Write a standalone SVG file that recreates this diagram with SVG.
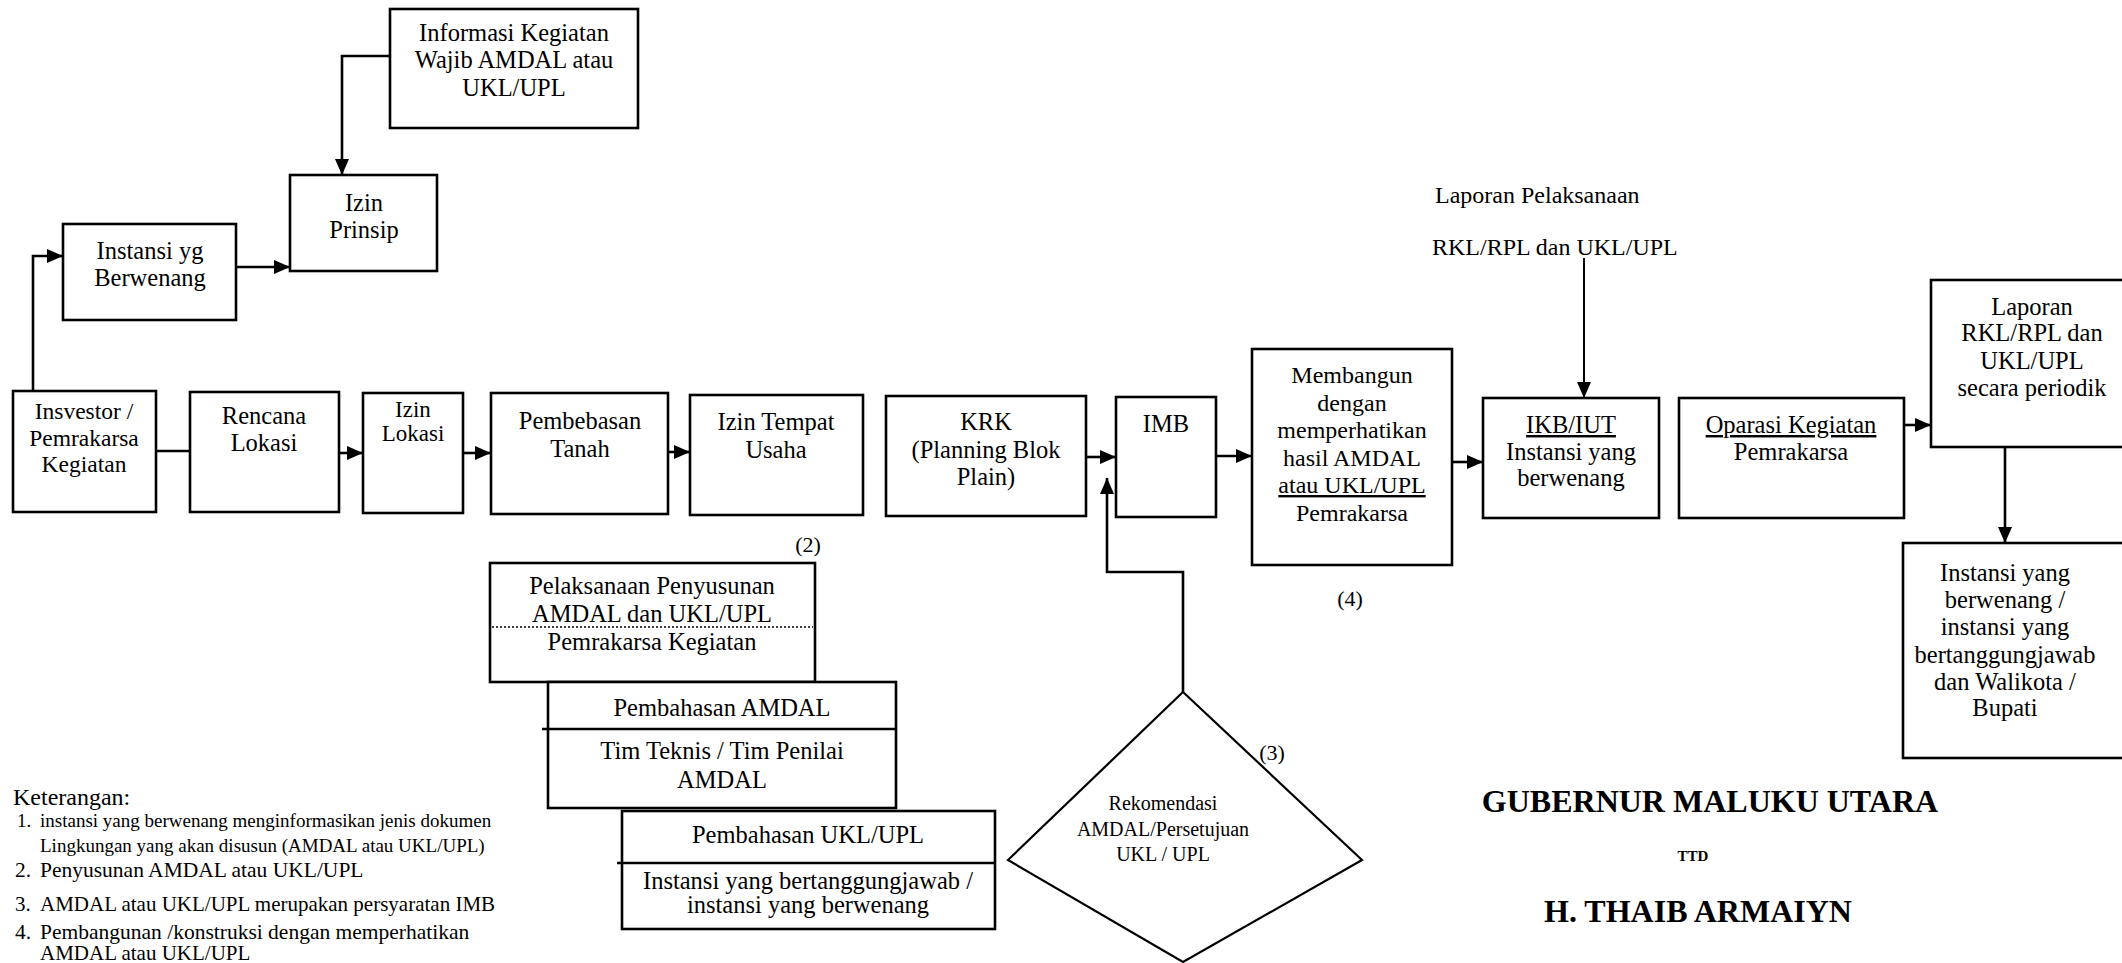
<svg xmlns="http://www.w3.org/2000/svg" width="2122" height="963" viewBox="0 0 2122 963">
<style>
.box{fill:#fff;stroke:#000;stroke-width:2.6}
.t{font-family:"Liberation Serif","Times New Roman",serif;font-size:24.5px;fill:#000;text-anchor:middle}
.l{font-family:"Liberation Serif","Times New Roman",serif;fill:#000;text-anchor:start}
.c{fill:none;stroke:#000;stroke-width:2.6}
.u{text-decoration:underline}
.b{font-weight:bold}
</style>
<defs>
<marker id="ah" viewBox="0 0 16 14" refX="16" refY="7" markerWidth="16" markerHeight="14" markerUnits="userSpaceOnUse" orient="auto">
<path d="M0,0 L16,7 L0,14 z" fill="#000"/>
</marker>
</defs>
<rect width="2122" height="963" fill="#fff"/>

<g id="connectors">
<path class="c" d="M390,56 H342 V175" marker-end="url(#ah)"/>
<path class="c" d="M236,267 H290" marker-end="url(#ah)"/>
<path class="c" d="M33,391 V256 H63" marker-end="url(#ah)"/>
<path class="c" d="M156,451 H190"/>
<path class="c" d="M339,453 H363" marker-end="url(#ah)"/>
<path class="c" d="M463,453 H491" marker-end="url(#ah)"/>
<path class="c" d="M668,452 H690" marker-end="url(#ah)"/>
<path class="c" d="M1086,457 H1116" marker-end="url(#ah)"/>
<path class="c" d="M1216,456 H1252" marker-end="url(#ah)"/>
<path class="c" d="M1452,462 H1483" marker-end="url(#ah)"/>
<path class="c" d="M1904,425 H1931" marker-end="url(#ah)"/>
<path class="c" d="M2005,447 V543" marker-end="url(#ah)"/>
<path class="c" d="M1584,258 V398" marker-end="url(#ah)" style="stroke-width:2"/>
<path class="c" d="M1183,692 V572 H1107 V478" marker-end="url(#ah)"/>
</g>

<g id="informasi">
<rect class="box" x="390" y="9" width="248" height="119"/>
<text class="t" x="514" y="41">Informasi Kegiatan</text>
<text class="t" x="514" y="68">Wajib AMDAL atau</text>
<text class="t" x="514" y="96">UKL/UPL</text>
</g>
<g id="izin-prinsip">
<rect class="box" x="290" y="175" width="147" height="96"/>
<text class="t" x="364" y="211">Izin</text>
<text class="t" x="364" y="238">Prinsip</text>
</g>
<g id="instansi-yg">
<rect class="box" x="63" y="224" width="173" height="96"/>
<text class="t" x="150" y="259">Instansi yg</text>
<text class="t" x="150" y="286">Berwenang</text>
</g>

<g id="investor">
<rect class="box" x="13" y="391" width="143" height="121"/>
<text class="t" x="84" y="419" style="font-size:23.5px">Insvestor /</text>
<text class="t" x="84" y="446" style="font-size:23.5px">Pemrakarsa</text>
<text class="t" x="84" y="472" style="font-size:23.5px">Kegiatan</text>
</g>
<g id="rencana">
<rect class="box" x="190" y="392" width="149" height="120"/>
<text class="t" x="264" y="424">Rencana</text>
<text class="t" x="264" y="451">Lokasi</text>
</g>
<g id="izin-lokasi">
<rect class="box" x="363" y="393" width="100" height="120"/>
<text class="t" x="413" y="417" style="font-size:23px">Izin</text>
<text class="t" x="413" y="441" style="font-size:23px">Lokasi</text>
</g>
<g id="pembebasan">
<rect class="box" x="491" y="393" width="177" height="121"/>
<text class="t" x="580" y="429">Pembebasan</text>
<text class="t" x="580" y="457">Tanah</text>
</g>
<g id="izin-tempat">
<rect class="box" x="690" y="395" width="173" height="120"/>
<text class="t" x="776" y="430">Izin Tempat</text>
<text class="t" x="776" y="458">Usaha</text>
</g>
<g id="krk">
<rect class="box" x="886" y="396" width="200" height="120"/>
<text class="t" x="986" y="430">KRK</text>
<text class="t" x="986" y="458">(Planning Blok</text>
<text class="t" x="986" y="485">Plain)</text>
</g>
<g id="imb">
<rect class="box" x="1116" y="397" width="100" height="120"/>
<text class="t" x="1166" y="432">IMB</text>
</g>
<g id="membangun">
<rect class="box" x="1252" y="349" width="200" height="216"/>
<text class="t" x="1352" y="383" style="font-size:24px">Membangun</text>
<text class="t" x="1352" y="411" style="font-size:24px">dengan</text>
<text class="t" x="1352" y="438" style="font-size:24px">memperhatikan</text>
<text class="t" x="1352" y="466" style="font-size:24px">hasil AMDAL</text>
<text class="t u" x="1352" y="493" style="font-size:24px">atau UKL/UPL</text>
<text class="t" x="1352" y="521" style="font-size:24px">Pemrakarsa</text>
</g>
<g id="ikb">
<rect class="box" x="1483" y="398" width="176" height="120"/>
<text class="t u" x="1571" y="433">IKB/IUT</text>
<text class="t" x="1571" y="460">Instansi yang</text>
<text class="t" x="1571" y="486">berwenang</text>
</g>
<g id="operasi">
<rect class="box" x="1679" y="398" width="225" height="120"/>
<text class="t u" x="1791" y="433">Oparasi Kegiatan</text>
<text class="t" x="1791" y="460">Pemrakarsa</text>
</g>
<g id="laporan-periodik">
<rect class="box" x="1931" y="280" width="200" height="167"/>
<text class="t" x="2032" y="315">Laporan</text>
<text class="t" x="2032" y="341">RKL/RPL dan</text>
<text class="t" x="2032" y="369">UKL/UPL</text>
<text class="t" x="2032" y="396">secara periodik</text>
</g>
<g id="instansi-walikota">
<rect class="box" x="1903" y="543" width="230" height="215"/>
<text class="t" x="2005" y="581">Instansi yang</text>
<text class="t" x="2005" y="608">berwenang /</text>
<text class="t" x="2005" y="635">instansi yang</text>
<text class="t" x="2005" y="663">bertanggungjawab</text>
<text class="t" x="2005" y="690">dan Walikota /</text>
<text class="t" x="2005" y="716">Bupati</text>
</g>

<g id="laporan-pelaksanaan">
<text class="l" x="1435" y="203" style="font-size:24px">Laporan Pelaksanaan</text>
<text class="l" x="1432" y="255" style="font-size:24px">RKL/RPL dan UKL/UPL</text>
</g>

<g id="penyusunan">
<rect class="box" x="490" y="563" width="325" height="119"/>
<line x1="492" y1="627" x2="813" y2="627" stroke="#000" stroke-width="1.5" stroke-dasharray="2,2"/>
<text class="t" x="652" y="594">Pelaksanaan Penyusunan</text>
<text class="t" x="652" y="622">AMDAL dan UKL/UPL</text>
<text class="t" x="652" y="650">Pemrakarsa Kegiatan</text>
</g>
<g id="pembahasan-amdal">
<rect class="box" x="548" y="682" width="348" height="126"/>
<line x1="542" y1="729" x2="896" y2="729" stroke="#000" stroke-width="2.6"/>
<text class="t" x="722" y="716">Pembahasan AMDAL</text>
<text class="t" x="722" y="759">Tim Teknis / Tim Penilai</text>
<text class="t" x="722" y="788">AMDAL</text>
</g>
<g id="pembahasan-ukl">
<rect class="box" x="622" y="811" width="373" height="118"/>
<line x1="617" y1="863" x2="995" y2="863" stroke="#000" stroke-width="2.6"/>
<text class="t" x="808" y="843">Pembahasan UKL/UPL</text>
<text class="t" x="808" y="889">Instansi yang bertanggungjawab /</text>
<text class="t" x="808" y="913">instansi yang berwenang</text>
</g>
<g id="rekomendasi">
<polygon points="1183,692 1362,860 1183,962 1008,860" fill="#fff" stroke="#000" stroke-width="2.2"/>
<text class="t" x="1163" y="810" style="font-size:20px">Rekomendasi</text>
<text class="t" x="1163" y="836" style="font-size:20px">AMDAL/Persetujuan</text>
<text class="t" x="1163" y="861" style="font-size:20px">UKL / UPL</text>
</g>

<g id="labels">
<text class="t" x="808" y="552" style="font-size:22px">(2)</text>
<text class="t" x="1272" y="760" style="font-size:22px">(3)</text>
<text class="t" x="1350" y="606" style="font-size:22px">(4)</text>
</g>

<g id="keterangan">
<text class="l" x="13" y="805" style="font-size:24px">Keterangan:</text>
<text class="l" x="17" y="827" style="font-size:19px">1.</text>
<text class="l" x="40" y="827" style="font-size:19px">instansi yang berwenang menginformasikan jenis dokumen</text>
<text class="l" x="40" y="852" style="font-size:19px">Lingkungan yang akan disusun (AMDAL atau UKL/UPL)</text>
<text class="l" x="15" y="877" style="font-size:21.5px">2.</text>
<text class="l" x="40" y="877" style="font-size:21.5px">Penyusunan AMDAL atau UKL/UPL</text>
<text class="l" x="15" y="911" style="font-size:21px">3.</text>
<text class="l" x="40" y="911" style="font-size:21px">AMDAL atau UKL/UPL merupakan persyaratan IMB</text>
<text class="l" x="15" y="939" style="font-size:21.5px">4.</text>
<text class="l" x="40" y="939" style="font-size:21.5px">Pembangunan /konstruksi dengan memperhatikan</text>
<text class="l" x="40" y="960" style="font-size:21px">AMDAL atau UKL/UPL</text>
</g>

<g id="signature">
<text class="t b" x="1710" y="812" style="font-size:32px">GUBERNUR MALUKU UTARA</text>
<text class="t b" x="1693" y="861" style="font-size:15px">TTD</text>
<text class="t b" x="1698" y="922" style="font-size:32px">H. THAIB ARMAIYN</text>
</g>
</svg>
